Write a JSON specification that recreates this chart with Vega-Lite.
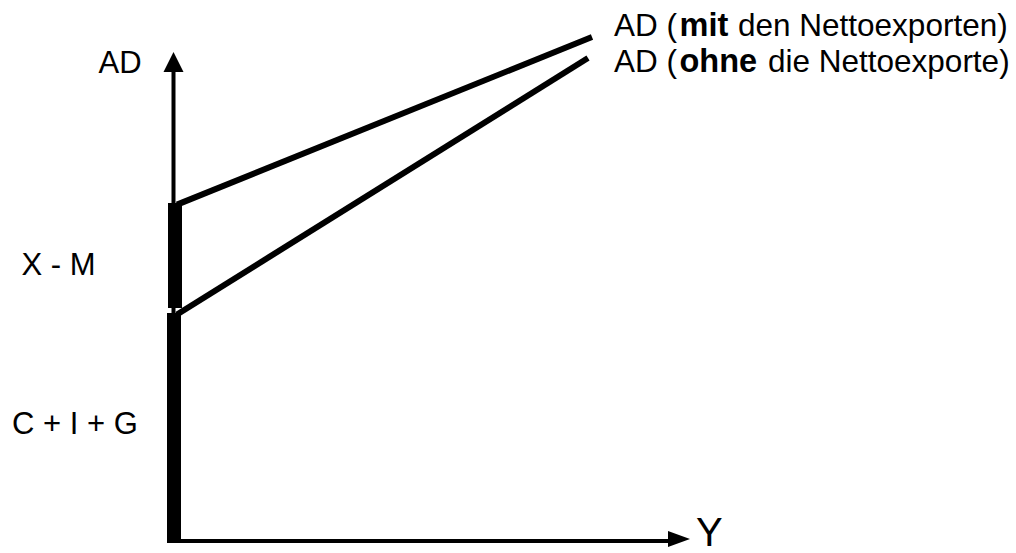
{
  "$schema": "https://vega.github.io/schema/vega-lite/v6.json",
  "width": 1016,
  "height": 553,
  "padding": 0,
  "autosize": {"type": "none"},
  "background": "white",
  "config": {
    "view": {"stroke": null},
    "text": {"font": "Liberation Sans", "fontSize": 31, "color": "black", "baseline": "alphabetic"}
  },
  "datasets": {
    "axes": [
      {"x": 0, "y": 0, "x2": 0, "y2": 46.9},
      {"x": -0.65, "y": 0, "x2": 49.45, "y2": 0}
    ],
    "adCurves": [
      {"curve": "AD mit NX", "x": 0.35, "y": 33.64, "x2": 41.85, "y2": 50.4},
      {"curve": "AD ohne NX", "x": 0.35, "y": 22.65, "x2": 41.45, "y2": 48.3}
    ],
    "components": [
      {"part": "C + I + G", "x": 0.05, "y": -0.2, "x2": 0.05, "y2": 22.8},
      {"part": "X - M", "x": 0.15, "y": 23.3, "x2": 0.15, "y2": 33.8}
    ],
    "axisLabels": [
      {"label": "AD", "x": -5.35, "y": 46.8},
      {"label": "X - M", "x": -11.5, "y": 26.6},
      {"label": "C + I + G", "x": -9.85, "y": 10.7}
    ],
    "curveLabelsPlain": [
      {"label": "AD (", "x": 44.05, "y": 50.5},
      {"label": "den Nettoexporten)", "x": 56.45, "y": 50.5},
      {"label": "AD (", "x": 44.05, "y": 46.9},
      {"label": "die Nettoexporte)", "x": 59.45, "y": 46.9}
    ],
    "curveLabelsBold": [
      {"label": "mit", "x": 50.6, "y": 50.5},
      {"label": "ohne", "x": 50.6, "y": 46.9}
    ]
  },
  "layer": [
    {
      "data": {"name": "axes"},
      "mark": {"type": "rule", "color": "black", "strokeWidth": 4, "strokeCap": "butt"},
      "encoding": {
        "x": {"field": "x", "type": "quantitative", "scale": {"domain": [-17.35, 84.25], "nice": false, "zero": false}, "axis": null},
        "y": {"field": "y", "type": "quantitative", "scale": {"domain": [-1.2, 54.1], "nice": false, "zero": false}, "axis": null},
        "x2": {"field": "x2"},
        "y2": {"field": "y2"}
      }
    },
    {
      "data": {"name": "adCurves"},
      "mark": {"type": "rule", "color": "black", "strokeWidth": 6, "strokeCap": "butt"},
      "encoding": {
        "x": {"field": "x", "type": "quantitative", "scale": {"domain": [-17.35, 84.25], "nice": false, "zero": false}, "axis": null},
        "y": {"field": "y", "type": "quantitative", "scale": {"domain": [-1.2, 54.1], "nice": false, "zero": false}, "axis": null},
        "x2": {"field": "x2"},
        "y2": {"field": "y2"}
      }
    },
    {
      "data": {"name": "components"},
      "mark": {"type": "rule", "color": "black", "strokeWidth": 14, "strokeCap": "butt"},
      "encoding": {
        "x": {"field": "x", "type": "quantitative", "scale": {"domain": [-17.35, 84.25], "nice": false, "zero": false}, "axis": null},
        "y": {"field": "y", "type": "quantitative", "scale": {"domain": [-1.2, 54.1], "nice": false, "zero": false}, "axis": null},
        "x2": {"field": "x2"},
        "y2": {"field": "y2"}
      }
    },
    {
      "data": {"values": [{"x": 0, "y": 47.9}]},
      "mark": {"type": "point", "shape": "M0,-1L1,1L-1,1Z", "size": 400, "filled": true, "color": "black", "opacity": 1, "strokeWidth": 0},
      "encoding": {
        "x": {"field": "x", "type": "quantitative", "scale": {"domain": [-17.35, 84.25], "nice": false, "zero": false}, "axis": null},
        "y": {"field": "y", "type": "quantitative", "scale": {"domain": [-1.2, 54.1], "nice": false, "zero": false}, "axis": null}
      }
    },
    {
      "data": {"values": [{"x": 50.55, "y": 0.2}]},
      "mark": {"type": "point", "shape": "M1,0L-1,-0.73L-1,0.73Z", "size": 484, "filled": true, "color": "black", "opacity": 1, "strokeWidth": 0},
      "encoding": {
        "x": {"field": "x", "type": "quantitative", "scale": {"domain": [-17.35, 84.25], "nice": false, "zero": false}, "axis": null},
        "y": {"field": "y", "type": "quantitative", "scale": {"domain": [-1.2, 54.1], "nice": false, "zero": false}, "axis": null}
      }
    },
    {
      "data": {"name": "axisLabels"},
      "mark": {"type": "text", "align": "center"},
      "encoding": {
        "x": {"field": "x", "type": "quantitative", "scale": {"domain": [-17.35, 84.25], "nice": false, "zero": false}, "axis": null},
        "y": {"field": "y", "type": "quantitative", "scale": {"domain": [-1.2, 54.1], "nice": false, "zero": false}, "axis": null},
        "text": {"field": "label"}
      }
    },
    {
      "data": {"name": "curveLabelsPlain"},
      "mark": {"type": "text", "align": "left", "fontSize": 31.5},
      "encoding": {
        "x": {"field": "x", "type": "quantitative", "scale": {"domain": [-17.35, 84.25], "nice": false, "zero": false}, "axis": null},
        "y": {"field": "y", "type": "quantitative", "scale": {"domain": [-1.2, 54.1], "nice": false, "zero": false}, "axis": null},
        "text": {"field": "label"}
      }
    },
    {
      "data": {"name": "curveLabelsBold"},
      "mark": {"type": "text", "align": "left", "fontWeight": "bold", "fontSize": 32.5},
      "encoding": {
        "x": {"field": "x", "type": "quantitative", "scale": {"domain": [-17.35, 84.25], "nice": false, "zero": false}, "axis": null},
        "y": {"field": "y", "type": "quantitative", "scale": {"domain": [-1.2, 54.1], "nice": false, "zero": false}, "axis": null},
        "text": {"field": "label"}
      }
    },
    {
      "data": {"values": [{"label": "Y", "x": 52.25, "y": -0.5}]},
      "mark": {"type": "text", "align": "left", "fontSize": 40},
      "encoding": {
        "x": {"field": "x", "type": "quantitative", "scale": {"domain": [-17.35, 84.25], "nice": false, "zero": false}, "axis": null},
        "y": {"field": "y", "type": "quantitative", "scale": {"domain": [-1.2, 54.1], "nice": false, "zero": false}, "axis": null},
        "text": {"field": "label"}
      }
    }
  ]
}
